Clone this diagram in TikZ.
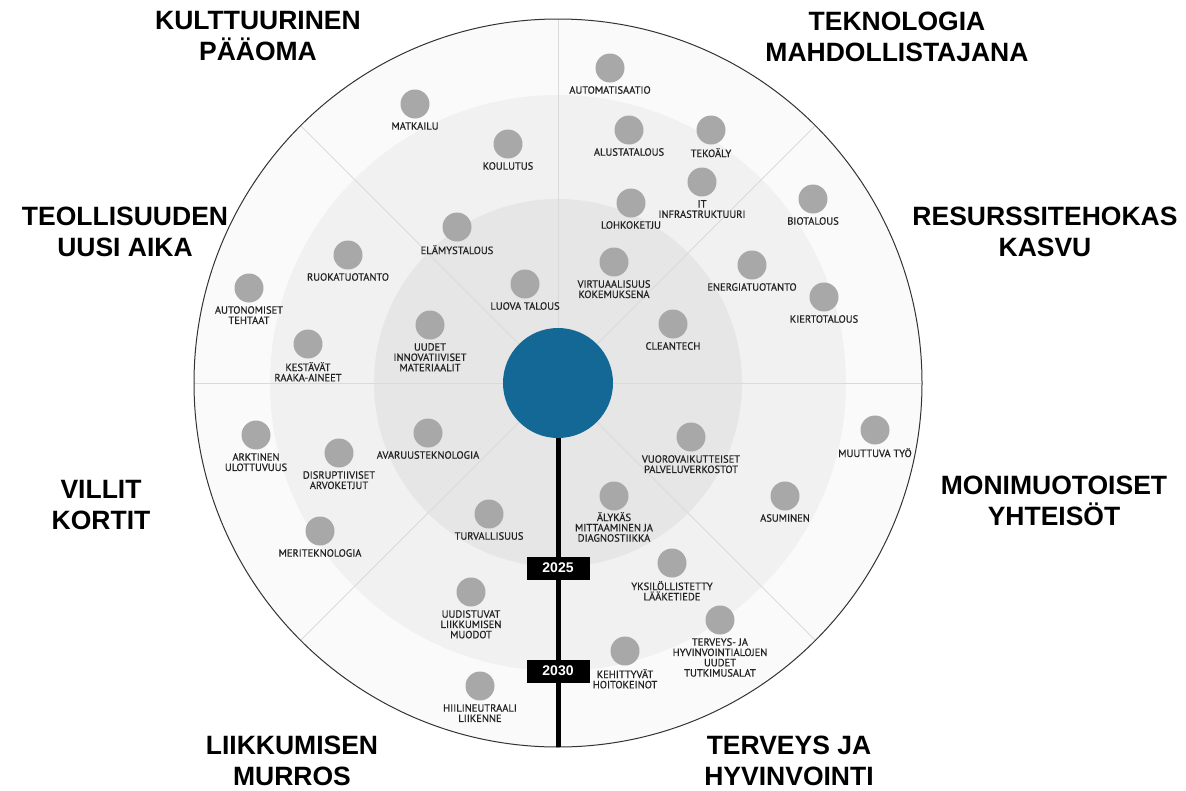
\documentclass[tikz,border=0pt]{standalone}
\usepackage{fontspec}
\newfontfamily\titlefont{Liberation Sans}
\newfontfamily\lblfont[FakeBold=0.6]{PT Sans}
\definecolor{ringout}{HTML}{FAFAFA}
\definecolor{ringmid}{HTML}{F1F1F1}
\definecolor{ringin}{HTML}{E6E6E6}
\definecolor{divgray}{HTML}{DADADA}
\definecolor{dotgray}{HTML}{A8A8A8}
\definecolor{hubblue}{HTML}{136895}
\definecolor{lbltext}{HTML}{222222}
\newcommand\trend[5][18]{%
  \node[dot] (#2) at (#3,#4) {};
  \node[lbl] (#2-l) at ([yshift=-#1pt]#2.center) {#5};}
\begin{document}
\begin{tikzpicture}[x=1pt,y=-1pt,
  dot/.style={circle, fill=dotgray, minimum size=29pt, inner sep=0pt},
  lbl/.style={font=\lblfont\fontsize{10.5}{10.3}\selectfont, text=lbltext, align=center, inner sep=0pt, anchor=north},
  title/.style={font=\titlefont\bfseries\fontsize{26.5}{31}\selectfont, align=center, inner sep=0pt},
  divider/.style={draw=divgray, line width=1pt},
  yearbox/.style={fill=black, text=white, font=\titlefont\bfseries\fontsize{14}{14}\selectfont, minimum width=63pt, minimum height=23pt, inner sep=0pt},
  timeline/.style={line width=5pt, draw=black}]
\fill[white] (0,0) rectangle (1186,790);
\useasboundingbox (0,0) rectangle (1186,790);
\coordinate (c) at (558,383);
% rings
\fill[ringout] (c) circle[radius=364pt];
\fill[ringmid] (c) circle[radius=288pt];
\fill[ringin] (c) circle[radius=184pt];
% sector dividers
\foreach \a in {0,45,90,135,180,225,315}
  \draw[divider] (c) -- ++(\a:364pt);
% outer border
\draw[draw=black!80, line width=1pt] (c) circle[radius=364pt];
% timeline
\coordinate (tend) at (558,747);
\draw[timeline] (c) -- (tend);
\node[circle, fill=hubblue, minimum size=110pt, inner sep=0pt] (hub) at (c) {};
\node[yearbox] (y2025) at (558,568) {2025};
\node[yearbox] (y2030) at (558,671) {2030};
% trends
\trend{matkailu}{415}{104}{MATKAILU}
\trend{koulutus}{508}{144}{KOULUTUS}
\trend{elamys}{457}{227}{ELÄMYSTALOUS}
\trend{ruoka}{348}{255}{RUOKATUOTANTO}
\trend{luova}{525}{284}{LUOVA TALOUS}
\trend{autom}{610}{68}{AUTOMATISAATIO}
\trend{alusta}{629}{130}{ALUSTATALOUS}
\trend{tekoaly}{711}{130}{TEKOÄLY}
\trend{itinfra}{702}{182}{IT\\INFRASTRUKTUURI}
\trend{lohko}{631}{203}{LOHKOKETJU}
\trend{bio}{813}{199}{BIOTALOUS}
\trend{virt}{614}{262}{VIRTUAALISUUS\\KOKEMUKSENA}
\trend{energia}{752}{265}{ENERGIATUOTANTO}
\trend{kierto}{824}{297}{KIERTOTALOUS}
\trend{clean}{673}{324}{CLEANTECH}
\trend{autonom}{249}{288}{AUTONOMISET\\TEHTAAT}
\trend{kestavat}{308}{344}{KESTÄVÄT\\RAAKA-AINEET}
\trend{uudet}{430}{325}{UUDET\\INNOVATIIVISET\\MATERIAALIT}
\trend{arkt}{256}{435}{ARKTINEN\\ULOTTUVUUS}
\trend{disr}{339}{453}{DISRUPTIIVISET\\ARVOKETJUT}
\trend{avaruus}{428}{433}{AVARUUSTEKNOLOGIA}
\trend{meri}{320}{531}{MERITEKNOLOGIA}
\trend{turva}{489}{514}{TURVALLISUUS}
\trend{uudist}{471}{592}{UUDISTUVAT\\LIIKKUMISEN\\MUODOT}
\trend{hiili}{480}{686}{HIILINEUTRAALI\\LIIKENNE}
\trend{muuttuva}{875}{430}{MUUTTUVA TYÖ}
\trend{vuoro}{691}{437}{VUOROVAIKUTTEISET\\PALVELUVERKOSTOT}
\trend[16]{alykas}{614}{496}{ÄLYKÄS\\MITTAAMINEN JA\\DIAGNOSTIIKKA}
\trend{asum}{785}{496}{ASUMINEN}
\trend{yksil}{672}{563}{YKSILÖLLISTETTY\\LÄÄKETIEDE}
\trend{terveys}{720}{620}{TERVEYS- JA\\HYVINVOINTIALOJEN\\UUDET\\TUTKIMUSALAT}
\trend{kehitt}{625}{651}{KEHITTYVÄT\\HOITOKEINOT}
% category titles
\node[title] (t1) at (258,36.5) {KULTTUURINEN\\PÄÄOMA};
\node[title] (t2) at (897,36.5) {TEKNOLOGIA\\MAHDOLLISTAJANA};
\node[title] (t3) at (125,231.5) {TEOLLISUUDEN\\UUSI AIKA};
\node[title] (t4) at (1045,231.5) {RESURSSITEHOKAS\\KASVU};
\node[title] (t5) at (101,505.5) {VILLIT\\KORTIT};
\node[title] (t6) at (1054,501) {MONIMUOTOISET\\YHTEISÖT};
\node[title] (t7) at (292,760.5) {LIIKKUMISEN\\MURROS};
\node[title] (t8) at (789,760.5) {TERVEYS JA\\HYVINVOINTI};
\end{tikzpicture}
\end{document}
